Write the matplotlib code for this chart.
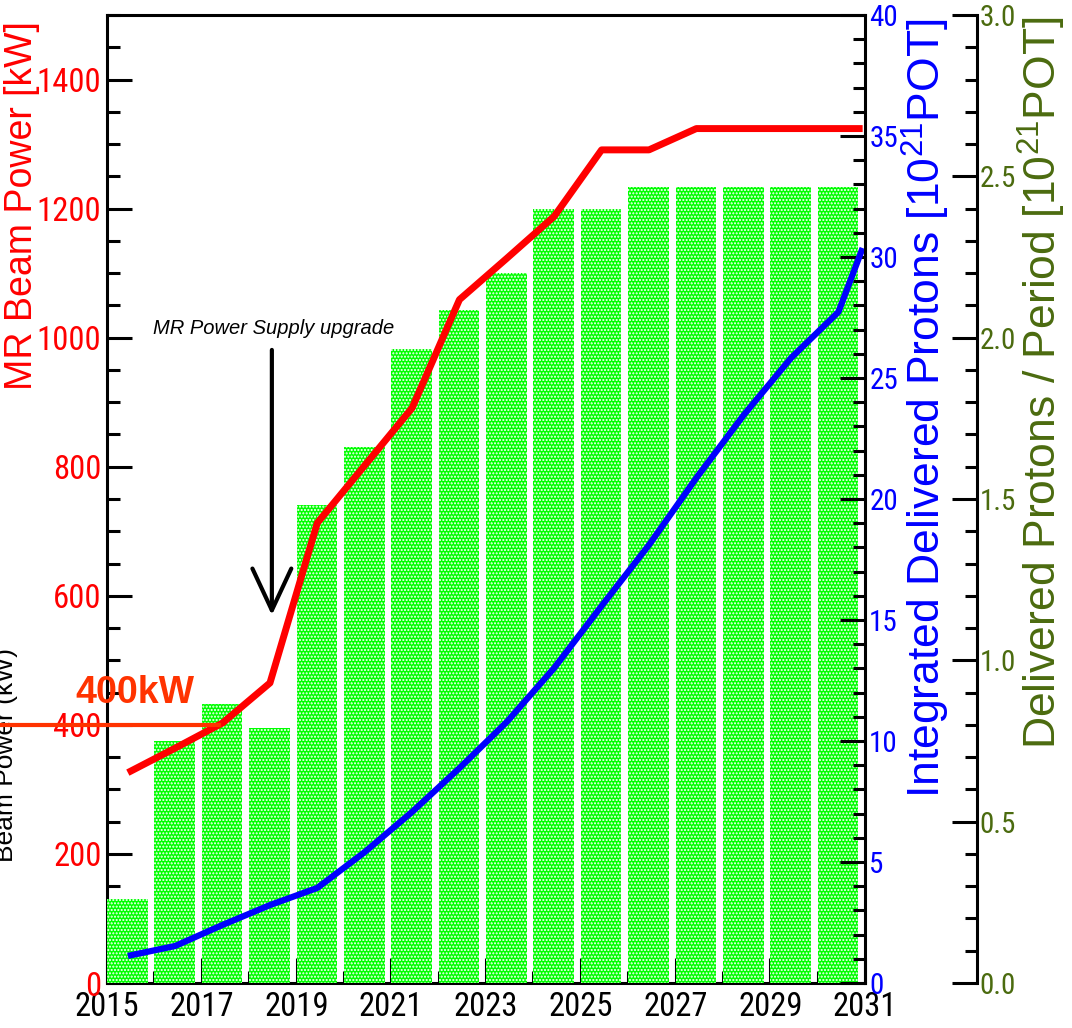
import os
import numpy as np
import matplotlib
matplotlib.use("Agg")
import matplotlib.pyplot as plt
from matplotlib import font_manager
from matplotlib.font_manager import FontProperties
from matplotlib.ticker import MultipleLocator, FormatStrFormatter

# JFY: protons per period (bars), MR beam power and integrated POT
years = np.arange(2015, 2031)
pot_period = [0.26, 0.75, 0.865, 0.79, 1.48, 1.66, 1.965, 2.085, 2.20,
              2.40, 2.40, 2.467, 2.467, 2.467, 2.467, 2.467]

line_years = [2015.44, 2016.44, 2017.44, 2018.44, 2019.44, 2020.44, 2021.44,
              2022.44, 2023.44, 2024.44, 2025.44, 2026.44, 2027.44, 2028.44,
              2029.44, 2030.44, 2030.95]
beam_kw = [326, 364, 403, 465, 713, 802, 891, 1059, 1123, 1188, 1291, 1291,
           1324, 1324, 1324, 1324, 1324]
pot_total = [1.12, 1.53, 2.40, 3.22, 3.93, 5.41, 7.07, 8.88, 10.79, 13.02,
             15.58, 18.1, 20.87, 23.47, 25.83, 27.73, 30.37]
year_ticks = list(range(2015, 2032, 2))

ref_kw = 400
upgrade_year = 2018.48

green = "#4b6b0f"


def condensed_font():
    # narrow sans for the tick numbers, if the system has one
    prefs = ["liberationsansnarrow-regular", "arialnarrow", "robotocondensed-regular",
             "dejavusanscondensed.ttf", "notosans-condensed.ttf", "opensans-condensed"]
    files = [f.fname for f in font_manager.fontManager.ttflist]
    for p in prefs:
        for fn in files:
            if p in os.path.basename(fn).lower():
                return fn
    return None


cond_file = condensed_font()


def num_font(size):
    if cond_file:
        return FontProperties(fname=cond_file, size=size)
    return FontProperties(family="Liberation Sans", size=size * 0.85)


plt.rcParams["font.family"] = ["Liberation Sans", "DejaVu Sans"]
plt.rcParams["mathtext.fontset"] = "custom"
plt.rcParams["mathtext.rm"] = "Liberation Sans"
plt.rcParams["mathtext.it"] = "Liberation Sans:italic"
plt.rcParams["hatch.linewidth"] = 1.0

fig = plt.figure(figsize=(10.72, 10.28), dpi=100)
ax = fig.add_axes([107 / 1072, 45 / 1028, 758 / 1072, 968 / 1028])
ax3 = ax.twinx()   # per-period POT (bars)
ax2 = ax.twinx()   # integrated POT, overlays
ax.set_zorder(0)
ax3.set_zorder(1)
ax2.set_zorder(2)

lw_axis = 2.2
for a in (ax, ax2, ax3):
    for s in a.spines.values():
        s.set_linewidth(lw_axis)
ax.spines["right"].set_visible(False)
for side in ("left", "top", "bottom"):
    ax2.spines[side].set_visible(False)
    ax3.spines[side].set_visible(False)
ax3.spines["right"].set_position(("axes", (977 - 107) / 758))

# bars
ax3.bar(years, pot_period, width=0.86, align="edge", color="#00ff00",
        edgecolor="white", linewidth=0, hatch=".....")
ax3.set_ylim(0, 3.0)
ax3.yaxis.set_major_locator(MultipleLocator(0.5))
ax3.yaxis.set_minor_locator(MultipleLocator(0.1))
ax3.yaxis.set_major_formatter(FormatStrFormatter("%.1f"))
ax3.tick_params(axis="y", which="both", direction="in", width=lw_axis,
                colors="black", labelcolor=green, pad=2)
ax3.tick_params(axis="y", which="major", length=18)
ax3.tick_params(axis="y", which="minor", length=9)
for t in ax3.get_yticklabels():
    t.set_fontproperties(num_font(21))
ax3.set_ylabel(r"Delivered Protons / Period [10$^{21}$POT]", color=green,
               fontsize=32, va="center", ha="center")
ax3.yaxis.set_label_coords(1.233, 0.62)

# left axis: beam power
ax.set_xlim(2015, 2031)
ax.set_ylim(0, 1500)
ax.set_xticks(year_ticks)
ax.xaxis.set_minor_locator(MultipleLocator(1))
ax.yaxis.set_major_locator(MultipleLocator(200))
ax.yaxis.set_minor_locator(MultipleLocator(50))
ax.tick_params(which="both", direction="in", width=lw_axis, top=False, right=False)
ax.tick_params(which="major", length=18)
ax.tick_params(which="minor", length=9)
ax.tick_params(axis="y", labelcolor="red", pad=4)
ax.tick_params(axis="x", pad=6)
for t in ax.get_yticklabels() + ax.get_xticklabels():
    t.set_fontproperties(num_font(23.5))
ax.set_ylabel("MR Beam Power [kW]", color="red", fontsize=27, va="center", ha="center")
ax.yaxis.set_label_coords(-0.112, 0.803)
ax.text(6 / 1072, (1028 - 755) / 1028, "Beam Power (kW)", transform=fig.transFigure,
        rotation=90, ha="center", va="center", fontsize=19, color="black")

# right axis: integrated POT
ax2.set_ylim(0, 40)
ax2.yaxis.set_major_locator(MultipleLocator(5))
ax2.yaxis.set_minor_locator(MultipleLocator(1))
ax2.tick_params(axis="y", which="both", direction="in", width=lw_axis,
                colors="black", labelcolor="blue", pad=3)
ax2.tick_params(axis="y", which="major", length=18)
ax2.tick_params(axis="y", which="minor", length=9)
for t in ax2.get_yticklabels():
    t.set_fontproperties(num_font(21))
ax2.set_ylabel(r"Integrated Delivered Protons [10$^{21}$POT]", color="blue",
               fontsize=32, va="center", ha="center")
ax2.yaxis.set_label_coords(1.0805, 0.594)

ax2.plot(line_years, pot_total, color="blue", lw=4.5, solid_capstyle="butt")

# beam power curve and 400 kW reference, drawn in kW units above the bars
kw = ax.transData
ax2.plot(line_years, beam_kw, color="red", lw=5, transform=kw, solid_capstyle="butt")
x_edge = ax.transData.inverted().transform(fig.transFigure.transform((0, 0)))[0]
x_cross = np.interp(ref_kw, beam_kw, line_years)
ax2.plot([x_edge, x_cross], [ref_kw, ref_kw], color="#ff3300", lw=3,
         transform=kw, clip_on=False)
ax2.text(2014.33, 434, "400kW", transform=kw, color="#ff3300", fontsize=27,
         fontweight="bold", va="baseline", clip_on=False)

ax2.annotate("", xy=(upgrade_year, 570), xytext=(upgrade_year, 981),
             xycoords=kw, textcoords=kw,
             arrowprops=dict(arrowstyle="->,head_length=1.5,head_width=0.7",
                             lw=3, color="black", mutation_scale=20,
                             shrinkA=0, shrinkB=0))
ax2.text(2015.97, 1006, "MR Power Supply upgrade", transform=kw,
         style="italic", fontsize=14.5, va="baseline")

fig.savefig("out.png", dpi=100)
